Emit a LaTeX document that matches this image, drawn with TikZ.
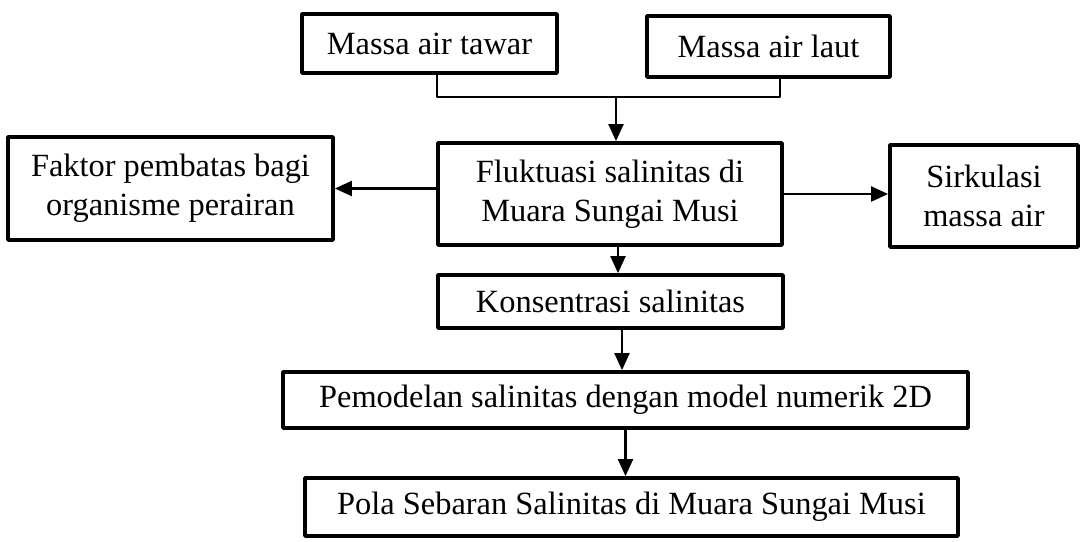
\documentclass[tikz,border=0pt]{standalone}
\usepackage{fontspec}
\setmainfont{Liberation Serif}
\usetikzlibrary{arrows.meta}
\tikzset{
  box/.style={draw, line width=1.9pt, inner sep=0pt, align=center,
    font=\fontsize{16.2}{19.5}\selectfont},
  link/.style={line width=1.1pt},
  arr/.style={link, -{Triangle[length=8.5pt,width=7.5pt]}}
}
\begin{document}
\begin{tikzpicture}[x=0.5pt,y=-0.5pt,join=round] %Salinity flow chart
        \useasboundingbox (0,0) rectangle (1084,542);
        \node[box, minimum width=127.5pt, minimum height=29.5pt] (tawar) at (429.5,43.5) {Massa air tawar};
        \node[box, minimum width=121.5pt, minimum height=30.5pt] (laut) at (768.5,46.5) {Massa air laut};
        \node[box, minimum width=162.5pt, minimum height=51.5pt] (faktor) at (170.5,188.5) {Faktor pembatas bagi\\organisme perairan};
        \node[box, minimum width=172pt, minimum height=51pt] (fluktuasi) at (610,194) {Fluktuasi salinitas di\\Muara Sungai Musi};
        \node[box, minimum width=94pt, minimum height=51pt] (sirkulasi) at (984,196) {Sirkulasi\\massa air};
        \node[box, minimum width=172.5pt, minimum height=26.5pt] (konsentrasi) at (610.5,301.5) {Konsentrasi salinitas};
        \node[box, minimum width=342.5pt, minimum height=28pt] (pemodelan) at (625.5,400) {Pemodelan salinitas dengan model numerik 2D};
        \node[box, minimum width=326.5pt, minimum height=29pt] (pola) at (631.5,507) {Pola Sebaran Salinitas di Muara Sungai Musi};
        % joining the two water masses
        \coordinate (join) at (616,97);
        \draw[link] ([xshift=3.75pt]tawar.south) |- (join) -| ([xshift=5.75pt]laut.south);
        \draw[arr] (join) -- (join |- fluktuasi.north);
        % sideways
        \draw[arr] (faktor.east -| fluktuasi.west) -- (faktor.east);
        \draw[arr] (fluktuasi.east) -- (fluktuasi.east -| sirkulasi.west);
        % downwards
        \draw[arr] ([xshift=4pt]fluktuasi.south) -- ([xshift=4pt]fluktuasi.south |- konsentrasi.north);
        \draw[arr] ([xshift=5.75pt]konsentrasi.south) -- ([xshift=5.75pt]konsentrasi.south |- pemodelan.north);
        \draw[arr] (pemodelan.south) -- (pemodelan.south |- pola.north);
    \end{tikzpicture}
\end{document}
